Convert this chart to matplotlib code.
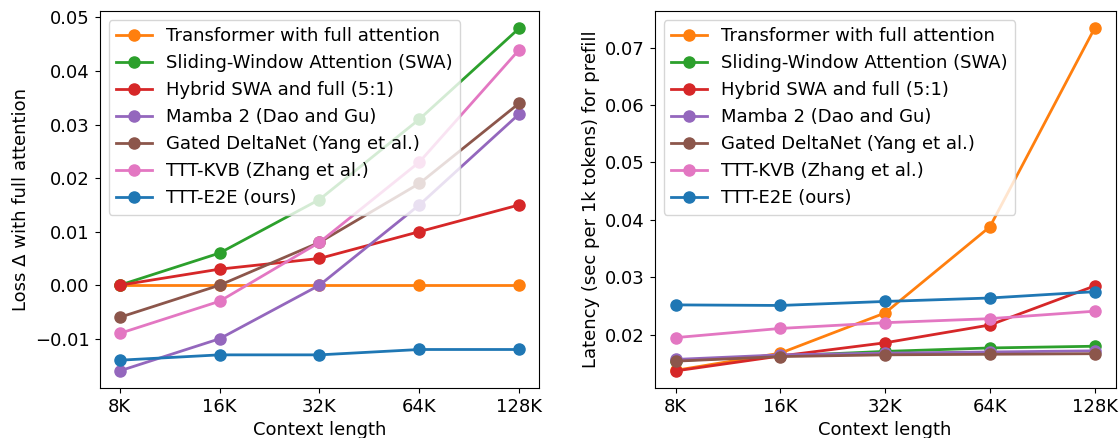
import matplotlib.pyplot as plt

ctx = ['8K', '16K', '32K', '64K', '128K']
names = ['Transformer with full attention', 'Sliding-Window Attention (SWA)',
         'Hybrid SWA and full (5:1)', 'Mamba 2 (Dao and Gu)',
         'Gated DeltaNet (Yang et al.)', 'TTT-KVB (Zhang et al.)', 'TTT-E2E (ours)']
colors = ['C1', 'C2', 'C3', 'C4', 'C5', 'C6', 'C0']

# loss delta vs full attention
loss_full = [0, 0, 0, 0, 0]
loss_swa = [0, 0.006, 0.016, 0.031, 0.048]
loss_hybrid = [0, 0.003, 0.005, 0.010, 0.015]
loss_mamba = [-0.016, -0.010, 0.000, 0.015, 0.032]
loss_gdn = [-0.006, 0.000, 0.008, 0.019, 0.034]
loss_kvb = [-0.009, -0.003, 0.008, 0.023, 0.044]
loss_e2e = [-0.014, -0.013, -0.013, -0.012, -0.012]

# prefill latency (sec per 1k tokens)
lat_full = [0.0138, 0.0168, 0.0238, 0.0388, 0.0734]
lat_swa = [0.0155, 0.0163, 0.0171, 0.0177, 0.0180]
lat_hybrid = [0.0137, 0.0163, 0.0186, 0.0217, 0.0285]
lat_mamba = [0.0157, 0.0165, 0.0168, 0.0170, 0.0172]
lat_gdn = [0.0154, 0.0162, 0.0165, 0.0166, 0.0167]
lat_kvb = [0.0195, 0.0211, 0.0221, 0.0228, 0.0241]
lat_e2e = [0.0252, 0.0251, 0.0258, 0.0264, 0.0275]

loss = [loss_full, loss_swa, loss_hybrid, loss_mamba, loss_gdn, loss_kvb, loss_e2e]
lat = [lat_full, lat_swa, lat_hybrid, lat_mamba, lat_gdn, lat_kvb, lat_e2e]

plt.rcParams['font.size'] = 13
fig = plt.figure(figsize=(11.19, 4.38), dpi=100)
ax1 = fig.add_axes([0.089, 0.114, 0.393, 0.861])
ax2 = fig.add_axes([0.585, 0.114, 0.412, 0.861])

xs = range(len(ctx))
for ax, data, ylab in [(ax1, loss, 'Loss Δ with full attention'),
                       (ax2, lat, 'Latency (sec per 1k tokens) for prefill')]:
    for name, c, ys in zip(names, colors, data):
        ax.plot(xs, ys, marker='o', color=c, label=name, lw=2, ms=8)
    ax.set_xticks(list(xs))
    ax.set_xticklabels(ctx)
    ax.set_xlabel('Context length')
    ax.set_ylabel(ylab)
    ax.legend(loc='upper left')

fig.savefig('out.png')
